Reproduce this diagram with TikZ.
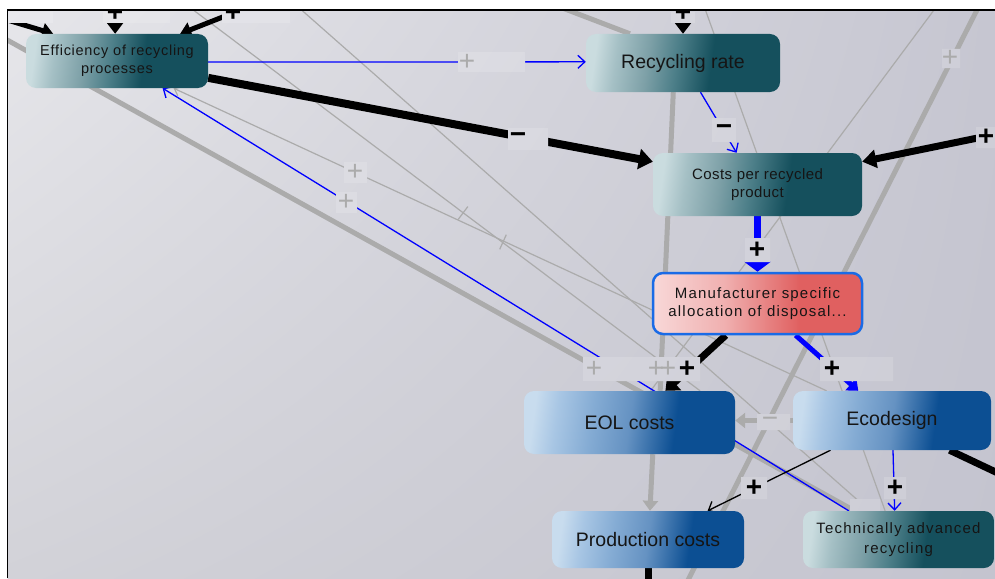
\documentclass[tikz,border=0pt]{standalone}
\usepackage{fontspec}
\setmainfont{Liberation Sans}
\newfontfamily\lsA[LetterSpace=5]{Liberation Sans}
\newfontfamily\lsB[LetterSpace=8]{Liberation Sans}
\newfontfamily\lsC[LetterSpace=3]{Liberation Sans}
\usetikzlibrary{arrows.meta,calc,shadings}
\definecolor{tealL}{HTML}{CADCDF}
\definecolor{tealA}{HTML}{A5C0C5}
\definecolor{tealB}{HTML}{7DA0A7}
\definecolor{tealM}{HTML}{4D7F89}
\definecolor{tealD}{HTML}{15505D}
\definecolor{blueL}{HTML}{C8DCEE}
\definecolor{blueA}{HTML}{A8C6E4}
\definecolor{blueB}{HTML}{85ACD4}
\definecolor{blueM}{HTML}{6592C2}
\definecolor{blueD}{HTML}{0C4F93}
\definecolor{redL}{HTML}{F8D8D8}
\definecolor{redM}{HTML}{F0B0B0}
\definecolor{redD}{HTML}{E06060}
\definecolor{redB}{HTML}{1A6BE6}
\definecolor{lgray}{HTML}{ABABAB}
\definecolor{bgUL}{HTML}{E6E6EA}
\definecolor{bgUR}{HTML}{C6C6D1}
\definecolor{bgLL}{HTML}{D2D2D8}
\definecolor{bgLR}{HTML}{C4C4CF}
\definecolor{txt}{HTML}{151515}
\pgfdeclarehorizontalshading{tealsh}{100bp}{color(0bp)=(tealL); color(25bp)=(tealL); color(31bp)=(tealA); color(40bp)=(tealB); color(48bp)=(tealM); color(58bp)=(tealD); color(100bp)=(tealD)}
\pgfdeclarehorizontalshading{bluesh}{100bp}{color(0bp)=(blueL); color(25bp)=(blueL); color(31bp)=(blueA); color(40bp)=(blueB); color(50bp)=(blueM); color(62bp)=(blueD); color(100bp)=(blueD)}
\pgfdeclarehorizontalshading{redsh}{100bp}{color(0bp)=(redL); color(25bp)=(redL); color(42bp)=(redM); color(60bp)=(redD); color(100bp)=(redD)}
\pgfdeclarelayer{backlayer}
\pgfdeclarelayer{edgelayer}
\pgfsetlayers{backlayer,edgelayer,main}
\newcommand\mysignfont{\fontsize{28}{28}\selectfont\bfseries}
\newcommand\mygsignfont{\fontsize{28}{28}\selectfont}
\newcommand\bgfill{\shade[upper left=bgUL, upper right=bgUR, lower left=bgLL, lower right=bgLR] (7.5,10) rectangle (995,578);}
\tikzset{
  box/.style={rounded corners=10pt, inner sep=0pt, align=center, text=txt, shade},
  tealbox/.style={box, shading=tealsh, shading angle=-8},
  bluebox/.style={box, shading=bluesh, shading angle=-8, font=\fontsize{19.5}{22}\selectfont},
  redbox/.style={box, shading=redsh, draw=redB, line width=2.5pt},
  gthick/.style={draw=lgray, line width=5pt},
  gthin/.style={draw=lgray, line width=1.2pt},
  thinarrow/.style={line width=1.3pt, -{Straight Barb[length=7pt,width=13pt]}},
  sgn/.style={font=\mysignfont, inner sep=0pt, text=black},
  gsgn/.style={font=\mygsignfont, inner sep=0pt, text=lgray},
}
\begin{document}
\begin{tikzpicture}[x=1pt,y=-1pt]
\useasboundingbox (0,0) rectangle (995,578);
\begin{pgfonlayer}{backlayer}
\fill[white] (0,0) rectangle (995,578);
\bgfill
\end{pgfonlayer}

% nodes
\node[tealbox, minimum width=182pt, minimum height=54pt, font={\lsA\fontsize{14.5}{18.5}\selectfont}] (eff) at (117,61) {Efficiency of recycling\\processes};
\node[tealbox, minimum width=194pt, minimum height=58pt, font=\fontsize{19.5}{22}\selectfont] (rr) at (683,63) {Recycling rate};
\node[tealbox, minimum width=209pt, minimum height=63pt, font={\lsC\fontsize{15}{18.5}\selectfont}] (cpr) at (757.5,184.5) {Costs per recycled\\product};
\node[redbox, minimum width=209pt, minimum height=61pt, font={\lsB\fontsize{15}{18.5}\selectfont}] (man) at (757.5,303.5) {Manufacturer specific\\allocation of disposal...};
\node[bluebox, minimum width=211pt, minimum height=63pt] (eol) at (629.5,422.5) {EOL costs};
\node[bluebox, minimum width=198pt, minimum height=59pt] (eco) at (892,420.5) {Ecodesign};
\node[bluebox, minimum width=192pt, minimum height=57pt] (prod) at (648,539.5) {Production costs};
\node[tealbox, minimum width=191pt, minimum height=57pt, font={\lsB\fontsize{15}{19.5}\selectfont}] (tech) at (898.5,539.5) {Technically advanced\\recycling};

% free ends
\coordinate (tl1) at (4,19);
\coordinate (tl2) at (115,4);
\coordinate (tl3) at (238,11);
\coordinate (tr1) at (683,4);
\coordinate (tr2) at (1002,133);
\coordinate (tr3) at (1002,475);
\coordinate (br1) at (648,590);
\coordinate (g1s) at (0,36);
\coordinate (g3s) at (980,4);
\coordinate (g3e) at (684,588);
\coordinate (g5s) at (552,4);
\coordinate (t1s) at (188,6);
\coordinate (t2s) at (297,6);
\coordinate (t4s) at (937,6);
\coordinate (t5s) at (704,6);

\begin{pgfonlayer}{edgelayer}
\begin{scope}
\clip (7.5,10) rectangle (995,578);
% faded links
\draw[gthick] (g1s) -- ($(tech.north west)!.27!(tech.north east)$);
\draw[gthick] ($(rr.south west)!.45!(rr.south east)$) -- ($(eol.north west)!.645!(eol.north east)$);
\draw[gthick] (g3s) -- (g3e);
\draw[gthick, -{Triangle[width=15pt,length=10pt]}] ($(eol.south west)!.61!(eol.south east)$) -- ($(prod.north west)!.51!(prod.north east)$);
\draw[gthick] (g5s) -- ($(rr.north west)!.227!(rr.north east)$);
\draw[gthick, -{Triangle[width=15pt,length=10pt]}] (eco.west) -- (eol.east |- eco.west);
\draw[gthin] (t1s) -- ($(eol.north west)!.834!(eol.north east)$);
\draw[gthin] (t2s) -- ($(tech.north west)!.35!(tech.north east)$);
\draw[gthin, {Straight Barb[length=6pt,width=10pt]}-] ($(eff.south west)!.81!(eff.south east)$) -- ($(eco.north west)!.17!(eco.north east)$);
\draw[gthin] (t4s) -- ($(eol.north west)!.6!(eol.north east)$);
\draw[gthin] (t5s) -- ($(tech.north west)!.43!(tech.north east)$);
\draw[gthin] (458.2,219.4) -- (467.8,206.6);
\draw[gthin] (499.7,249.3) -- (506.3,234.7);

% main links
\draw[black, line width=5pt, -{Triangle[width=15pt,length=11pt]}] (tl1) -- ($(eff.north west)!.15!(eff.north east)$);
\draw[black, line width=5pt, -{Triangle[width=16pt,length=11pt]}] (tl2) -- ($(eff.north west)!.49!(eff.north east)$);
\draw[black, line width=5pt, -{Triangle[width=15pt,length=11pt]}] (tl3) -- ($(eff.north west)!.846!(eff.north east)$);
\draw[black, line width=5pt, -{Triangle[width=16pt,length=11pt]}] (tr1) -- (rr.north);
\draw[blue, thinarrow] ($(eff.north east)!.52!(eff.south east)$) -- ($(rr.north west)!.48!(rr.south west)$);
\draw[black, line width=8pt, -{Triangle[width=20pt,length=14pt]}] ($(eff.north east)!.81!(eff.south east)$) -- ($(cpr.north west)!.14!(cpr.south west)$);
\draw[blue, thinarrow] ($(rr.south west)!.59!(rr.south east)$) -- ($(cpr.north west)!.40!(cpr.north east)$);
\draw[black, line width=7pt, -{Triangle[width=18pt,length=14pt]}] (tr2) -- ($(cpr.north east)!.14!(cpr.south east)$);
\draw[blue, line width=7pt, -{Triangle[width=26pt,length=10pt]}] (cpr.south) -- (man.north);
\draw[black, line width=7pt, -{Triangle[width=20pt,length=12pt]}] ($(man.south west)!.35!(man.south east)$) -- ($(eol.north west)!.67!(eol.north east)$);
\draw[blue, line width=5pt, -{Triangle[width=16pt,length=10pt]}] ($(man.south west)!.68!(man.south east)$) -- ($(eco.north west)!.33!(eco.north east)$);
\draw[blue, thinarrow] ($(tech.north west)!.24!(tech.north east)$) -- ($(eff.south west)!.75!(eff.south east)$);
\draw[black, thinarrow] ($(eco.south west)!.19!(eco.south east)$) -- ($(prod.north west)!.81!(prod.north east)$);
\draw[blue, thinarrow] ($(eco.south west)!.505!(eco.south east)$) -- ($(tech.north west)!.48!(tech.north east)$);
\draw[black, line width=7pt] ($(eco.south west)!.79!(eco.south east)$) -- (tr3);
\draw[black, line width=7pt] (prod.south) -- (br1);

% label backgrounds: the canvas again, a shade lighter
\begin{scope}
\clip (8,12) rectangle (53,23) (103,12) rectangle (170,23) (222,12) rectangle (290,23)
      (671,12) rectangle (695,23) (458,52) rectangle (525,72) (508,128) rectangle (548,150)
      (712,118) rectangle (736,142) (344,162) rectangle (367,183) (336,192) rectangle (357,213)
      (745,238) rectangle (770,262) (583,357) rectangle (700,381) (820,357) rectangle (893,381)
      (942,49) rectangle (960,68) (976,127) rectangle (995,148) (757,414) rectangle (790,430)
      (741,477) rectangle (767,499) (884,477) rectangle (906,499) (850,499) rectangle (880,511);
\bgfill
\fill[white, fill opacity=0.15] (7.5,10) rectangle (995,578);
\end{scope}

% labels
\node[sgn] (s1) at (115,13) {+};
\node[sgn] (s2) at (233,13) {+};
\node[sgn] (s3) at (683,13) {+};
\node[gsgn] (s4) at (467,62) {+};
\node[sgn] (s5) at (518,138) {−};
\node[sgn] (s6) at (724,130) {−};
\node[sgn] (s7) at (986,137) {+};
\node[gsgn] (s8) at (355,172) {+};
\node[gsgn] (s9) at (346,202) {+};
\node[gsgn] (s10) at (950,58) {+};
\node[sgn] (s11) at (757,250) {+};
\node[gsgn] (s12) at (594,369) {+};
\node[gsgn] (s13) at (656,369) {+};
\node[gsgn] (s14) at (668,369) {+};
\node[sgn] (s15) at (687,369) {+};
\node[sgn] (s16) at (832,369) {+};
\node[gsgn] (s17) at (770,422) {−};
\node[sgn] (s18) at (754,488) {+};
\node[sgn] (s19) at (895,488) {+};
\end{scope}
\end{pgfonlayer}

\draw[line width=1.3pt] (7.5,578) -- (7.5,10) -- (995,10);
\end{tikzpicture}
\end{document}
